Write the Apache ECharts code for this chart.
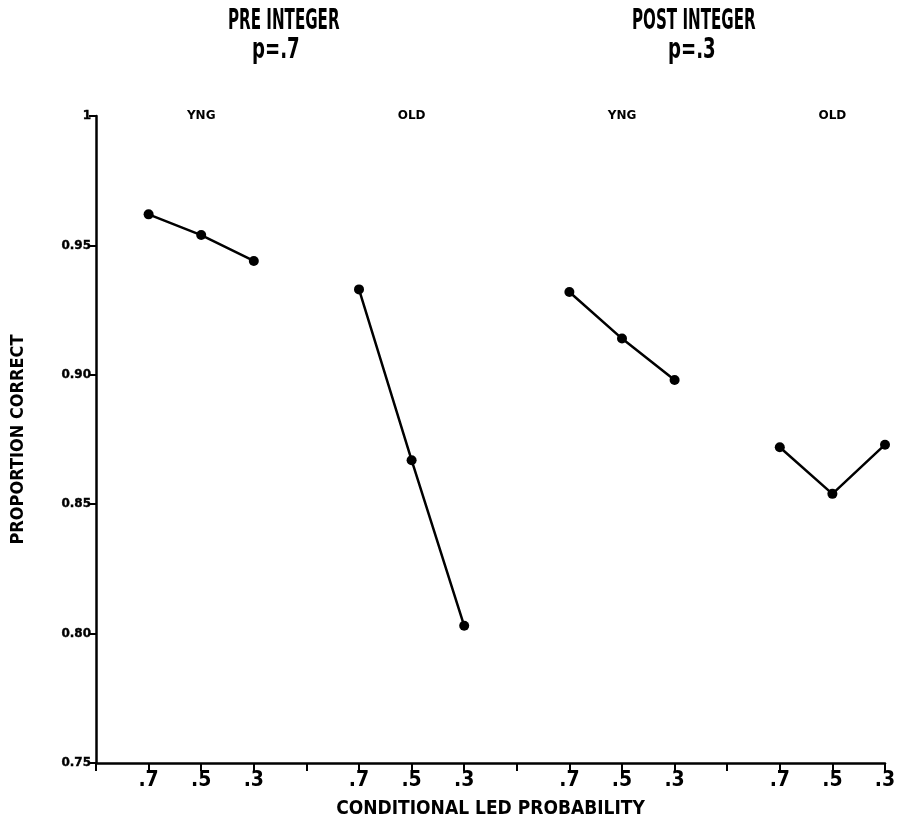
<!DOCTYPE html>
<html>
<head>
<meta charset="utf-8">
<script src="https://cdn.jsdelivr.net/npm/echarts@6/dist/echarts.min.js"></script>
<style>
html,body{margin:0;padding:0;background:#fff;}
#main{width:899px;height:825px;}
</style>
</head>
<body>
<div id="main"></div>
<script>
// ---- data ----
var conditions = ['.7', '.5', '.3'];
var groupNames = ['YNG', 'OLD', 'YNG', 'OLD'];
var preYng  = [0.962, 0.954, 0.944];
var preOld  = [0.933, 0.867, 0.803];
var postYng = [0.932, 0.914, 0.898];
var postOld = [0.872, 0.854, 0.873];
var xTickLabels = ['', '.7', '.5', '.3', '', '.7', '.5', '.3', '', '.7', '.5', '.3', '', '.7', '.5', '.3'];
var yTickLabels = {'1': '1', '0.95': '0.95', '0.9': '0.90', '0.85': '0.85', '0.8': '0.80', '0.75': '0.75'};
var titleLines = [['PRE INTEGER', 'p=.7'], ['POST INTEGER', 'p=.3']];

var FONT = "'DejaVu Sans Condensed', 'Liberation Sans Narrow', sans-serif";
var groupValues = [preYng, preOld, postYng, postOld];
var groupStart = [1, 5, 9, 13];

function seriesFor(vals, g) {
  return {
    type: 'line',
    data: vals.map(function (v, i) { return [groupStart[g] + i, v]; }),
    symbol: 'circle',
    symbolSize: 10,
    lineStyle: { color: '#000', width: 2.5 },
    itemStyle: { color: '#000' },
    silent: true,
    animation: false
  };
}

var series = groupValues.map(seriesFor);
series.push({
  type: 'scatter',
  symbolSize: 0,
  itemStyle: { color: 'rgba(0,0,0,0)', opacity: 1 },
  data: groupNames.map(function (n, g) { return { value: [groupStart[g] + 1, 1], name: n }; }),
  label: {
    show: true, position: [0, 0], align: 'center', verticalAlign: 'middle', formatter: '{b}',
    color: '#000', opacity: 1, fontFamily: "'DejaVu Sans', sans-serif", fontWeight: 'bold', fontSize: 12
  },
  emphasis: { disabled: true },
  silent: true, animation: false
});

function titleText(x, y, text, sx) {
  return { type: 'text', x: x, y: y, scaleX: sx, silent: true,
    style: { text: text, font: 'bold 28px ' + FONT, fill: '#000' } };
}

var chart = echarts.init(document.getElementById('main'), null, { renderer: 'canvas' });
chart.setOption({
  backgroundColor: '#fff',
  animation: false,
  grid: { left: 96, right: 14, top: 116, bottom: 62, containLabel: false },
  xAxis: {
    type: 'value', min: 0, max: 15, interval: 1,
    axisLine: { show: true, lineStyle: { color: '#000', width: 2.5 } },
    axisTick: { show: true, inside: false, length: 8, lineStyle: { color: '#000', width: 2 } },
    splitLine: { show: false },
    axisLabel: {
      color: '#000', fontFamily: FONT, fontWeight: 'bold', fontSize: 21, margin: 7,
      formatter: function (v) { return xTickLabels[Math.round(v)] || ''; }
    },
    name: 'CONDITIONAL LED PROBABILITY', nameLocation: 'middle', nameGap: 37,
    nameTextStyle: { color: '#000', fontFamily: FONT, fontWeight: 'bold', fontSize: 19 }
  },
  yAxis: {
    type: 'value', min: 0.75, max: 1, interval: 0.05,
    axisLine: { show: true, lineStyle: { color: '#000', width: 2.5 } },
    axisTick: { show: true, length: 7, lineStyle: { color: '#000', width: 2 } },
    splitLine: { show: false },
    axisLabel: {
      color: '#000', fontFamily: "'DejaVu Sans', sans-serif", fontWeight: 'bold', fontSize: 12, margin: 5,
      textBorderColor: '#000', textBorderWidth: 0.4,
      formatter: function (v) { var k = String(Math.round(v * 100) / 100); return yTickLabels[k] || k; }
    },
    name: 'PROPORTION CORRECT', nameLocation: 'middle', nameGap: 69, nameRotate: 90,
    nameTextStyle: { color: '#000', fontFamily: FONT, fontWeight: 'bold', fontSize: 18 }
  },
  graphic: [
    titleText(228, 8, titleLines[0][0], 0.6),
    titleText(252, 37, titleLines[0][1], 0.72),
    titleText(632, 8, titleLines[1][0], 0.6),
    titleText(668, 37, titleLines[1][1], 0.72)
  ],
  series: series
});
</script>
</body>
</html>
